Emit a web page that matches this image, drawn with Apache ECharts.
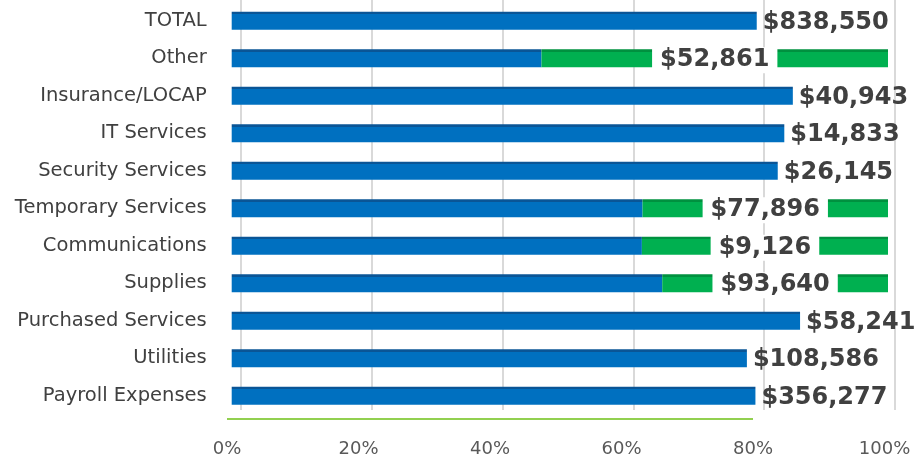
<!DOCTYPE html>
<html><head><meta charset="utf-8">
<script src="https://cdn.jsdelivr.net/npm/echarts@6/dist/echarts.min.js"></script>
<style>html,body{margin:0;padding:0;background:#fff}#c{width:922px;height:462px}</style>
</head><body><div id="c"></div>
<script>
const categories = ['Payroll Expenses','Utilities','Purchased Services','Supplies','Communications','Temporary Services','Security Services','IT Services','Insurance/LOCAP','Other','TOTAL'];
const spentPct = [79.8, 78.5, 86.6, 65.6, 62.5, 62.6, 83.2, 84.2, 85.5, 47.2, 80.0];
const remainPct = [0, 0, 0, 34.4, 37.5, 37.4, 0, 0, 0, 52.8, 0];
const amountLabels = ['$356,277','$108,586','$58,241','$93,640','$9,126','$77,896','$26,145','$14,833','$40,943','$52,861','$838,550'];
const xTicks = ['0%','20%','40%','60%','80%','100%'];
const floorLine = [0, 80];

const blueGrad = {type:'linear',x:0,y:0,x2:0,y2:1,colorStops:[
  {offset:0,color:'#0a5596'},{offset:0.14,color:'#0a5596'},{offset:0.14,color:'#0070c0'},{offset:1,color:'#0070c0'}]};
const greenGrad = {type:'linear',x:0,y:0,x2:0,y2:1,colorStops:[
  {offset:0,color:'#00913f'},{offset:0.14,color:'#00913f'},{offset:0.14,color:'#00b050'},{offset:1,color:'#00b050'}]};

const valueFont = {fontFamily:'DejaVu Sans', fontWeight:'bold', fontSize:24, color:'#404040'};

const blueData = spentPct.map((v,i)=>({
  value:v,
  label:{show: remainPct[i]===0, position:'right', distance:6, offset:[0,2], formatter: amountLabels[i], ...valueFont}
}));
const greenData = remainPct.map((v,i)=>({
  value:v,
  label:{show: v>0, position:'inside', offset:[0,2], formatter: amountLabels[i], backgroundColor:'#fff', padding:[2,8,0,8], ...valueFont}
}));

const chart = echarts.init(document.getElementById('c'));
chart.setOption({
  animation:false,
  grid:[
    {left:231.7, right:34, top:2, bottom:47.5},
    {left:240.7, right:27, top:0, bottom:52},
    {left:227, right:37.5, top:0, bottom:43}
  ],
  xAxis:[
    {gridIndex:0, type:'value', min:0, max:100, axisLine:{show:false}, axisTick:{show:false}, axisLabel:{show:false}, splitLine:{show:false}},
    {gridIndex:1, type:'value', min:0, max:100, interval:20, axisLine:{show:false}, axisTick:{show:false}, axisLabel:{show:false}, splitLine:{show:true, lineStyle:{color:'#d9d9d9', width:2}}},
    {gridIndex:2, type:'value', min:0, max:100, interval:20, axisLine:{show:false}, axisTick:{show:false}, splitLine:{show:false},
      axisLabel:{margin:21, fontFamily:'DejaVu Sans', fontSize:18, color:'#595959', formatter:(v)=>xTicks[v/20]}}
  ],
  yAxis:[
    {gridIndex:0, type:'category', data:categories, axisLine:{show:false}, axisTick:{show:false},
      axisLabel:{margin:25, fontFamily:'DejaVu Sans', fontSize:19.5, color:'#404040'}},
    {gridIndex:1, type:'value', show:false},
    {gridIndex:2, type:'value', min:0, max:1, show:false}
  ],
  series:[
    {type:'bar', xAxisIndex:0, yAxisIndex:0, stack:'s', barWidth:'48%', itemStyle:{color:blueGrad}, data:blueData, z:3},
    {type:'bar', xAxisIndex:0, yAxisIndex:0, stack:'s', barWidth:'48%', itemStyle:{color:greenGrad}, data:greenData, z:3},
    {type:'line', xAxisIndex:2, yAxisIndex:2, data:floorLine.map(x=>[x,0]), symbol:'none', lineStyle:{color:'#92d050', width:2}, silent:true}
  ]
});
</script></body></html>
